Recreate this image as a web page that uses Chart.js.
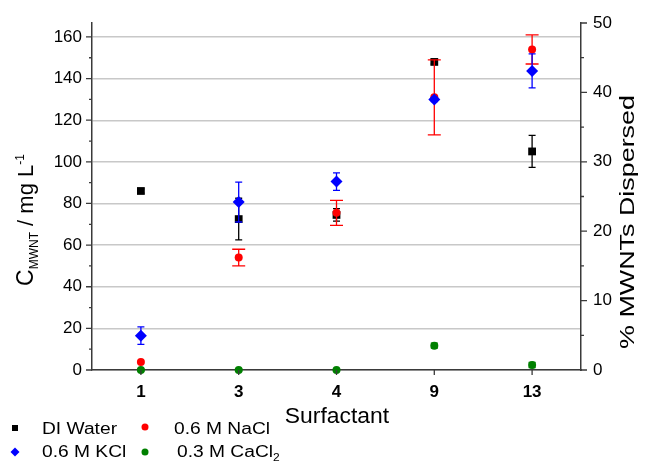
<!DOCTYPE html>
<html>
<head>
<meta charset="utf-8">
<script src="https://cdn.jsdelivr.net/npm/chart.js@4.4.0/dist/chart.umd.min.js"></script>
<style>
body { margin: 0; background: #fff; }
#contenedor { width: 645px; height: 463px; }
</style>
</head>
<body>
<div id="contenedor"><canvas id="grafico" width="645" height="463"></canvas></div>
<script>
// Datos
const surfactantes = ['1', '3', '4', '9', '13'];
const diWater = [86, 72.5, 74.5, 148, 105];
const diWaterErr = [1, 10, 3, 1, 7.7];
const naCl = [3.8, 54, 75.5, 131, 154];
const naClErr = [0, 4, 6, 18, 7];
const kCl = [16.5, 80.7, 90.5, 130, 143.7];
const kClErr = [4.2, 9.6, 4.2, 1, 8.2];
const caCl2 = [0, 0, 0, 11.7, 2.4];
const caCl2Err = [0.5, 0.5, 0.5, 1.2, 1.2];
const maxIzq = 166.7;   // mg/L
const maxDer = 50;      // %

const FUENTE = "'Liberation Sans', Arial, sans-serif";
const EJE = '#3a3a3a';

Chart.defaults.font.family = FUENTE;
Chart.defaults.color = '#000';

// texto estirado a lo largo de su direccion
function textoEscalado(ctx, piezas, escala) {
    // piezas: [texto, tamaño, desplazamiento vertical]
    let total = 0;
    piezas.forEach(p => {
        ctx.font = p[1] + 'px ' + FUENTE;
        p.ancho = ctx.measureText(p[0]).width;
        total += p.ancho;
    });
    ctx.save();
    ctx.scale(escala, 1);
    let x = -total / 2;
    ctx.textAlign = 'left';
    ctx.textBaseline = 'alphabetic';
    piezas.forEach(p => {
        ctx.font = p[1] + 'px ' + FUENTE;
        ctx.fillText(p[0], x, p[2]);
        x += p.ancho;
    });
    ctx.restore();
    return total * escala;
}

const barrasError = {
    id: 'barrasError',
    beforeDatasetDraw(chart, args) {
        const ds = chart.data.datasets[args.index];
        if (!ds.errores) return;
        const ctx = chart.ctx;
        const ejeX = chart.scales.x;
        const ejeY = chart.scales.y;
        ctx.save();
        ctx.strokeStyle = ds.borderColor;
        ctx.lineWidth = 1.3;
        ds.data.forEach((v, i) => {
            const e = ds.errores[i];
            if (!e) return;
            const px = ejeX.getPixelForValue(i);
            const arriba = ejeY.getPixelForValue(v + e);
            const abajo = ejeY.getPixelForValue(v - e);
            ctx.beginPath();
            ctx.moveTo(px, arriba); ctx.lineTo(px, abajo);
            ctx.moveTo(px - ds.tapa, arriba); ctx.lineTo(px + ds.tapa, arriba);
            ctx.moveTo(px - ds.tapa, abajo); ctx.lineTo(px + ds.tapa, abajo);
            ctx.stroke();
        });
        ctx.restore();
    }
};

const extras = {
    id: 'extras',
    afterDraw(chart) {
        const ctx = chart.ctx;
        const area = chart.chartArea;
        const yI = chart.scales.y;
        const yD = chart.scales.y2;
        const ejeX = chart.scales.x;
        ctx.save();
        ctx.strokeStyle = EJE;
        ctx.lineWidth = 1.3;
        ctx.beginPath();
        // marcas eje izquierdo
        for (let v = 0; v <= 160; v += 10) {
            const py = yI.getPixelForValue(v);
            ctx.moveTo(area.left - (v % 20 === 0 ? 6 : 3), py);
            ctx.lineTo(area.left, py);
        }
        // marcas eje derecho
        for (let v = 0; v <= 50; v += 5) {
            const py = yD.getPixelForValue(v);
            ctx.moveTo(area.right, py);
            ctx.lineTo(area.right + (v % 10 === 0 ? 6 : 3), py);
        }
        // marcas eje x
        surfactantes.forEach((s, i) => {
            const px = ejeX.getPixelForValue(i);
            ctx.moveTo(px, area.bottom);
            ctx.lineTo(px, area.bottom + 5);
        });
        ctx.stroke();
        ctx.restore();

        ctx.save();
        ctx.fillStyle = '#000';
        // titulo eje x
        ctx.save();
        ctx.translate(337, 423);
        textoEscalado(ctx, [['Surfactant', 22, 0]], 1.04);
        ctx.restore();

        // titulo eje izquierdo
        ctx.save();
        ctx.translate(33, 220);
        ctx.rotate(-Math.PI / 2);
        textoEscalado(ctx, [['C', 23, 0], ['MWNT', 12, 5], [' / mg L', 22, 0], ['-1', 12, -9]], 1.0);
        ctx.restore();

        // titulo eje derecho
        ctx.save();
        ctx.translate(634, 222);
        ctx.rotate(-Math.PI / 2);
        textoEscalado(ctx, [['% MWNTs Dispersed', 21, 0]], 1.28);
        ctx.restore();

        // leyenda
        const filas = [434, 457];
        const dibujarMarca = (tipo, color, x, y) => {
            ctx.fillStyle = color;
            ctx.beginPath();
            if (tipo === 'rect') ctx.rect(x - 3, y - 3, 6, 6);
            else if (tipo === 'rectRot') {
                ctx.moveTo(x, y - 4.5); ctx.lineTo(x + 4.5, y);
                ctx.lineTo(x, y + 4.5); ctx.lineTo(x - 4.5, y);
                ctx.closePath();
            } else ctx.arc(x, y, 3.5, 0, Math.PI * 2);
            ctx.fill();
        };
        dibujarMarca('rect', '#000', 15, filas[0] - 6);
        dibujarMarca('circle', '#ff0000', 145, filas[0] - 7);
        dibujarMarca('rectRot', '#0000ff', 15, filas[1] - 5);
        dibujarMarca('circle', '#008000', 145, filas[1] - 5);
        ctx.fillStyle = '#000';
        const leyenda = (piezas, x, y) => {
            ctx.save();
            ctx.translate(x, y);
            let total = 0;
            piezas.forEach(p => { ctx.font = p[1] + 'px ' + FUENTE; total += ctx.measureText(p[0]).width; });
            ctx.translate(total * 1.2 / 2, 0);
            textoEscalado(ctx, piezas, 1.2);
            ctx.restore();
        };
        leyenda([['DI Water', 16, 0]], 42, filas[0]);
        leyenda([['0.6 M NaCl', 16, 0]], 174, filas[0]);
        leyenda([['0.6 M KCl', 16, 0]], 42, filas[1]);
        leyenda([['0.3 M CaCl', 16, 0], ['2', 10, 4]], 177, filas[1]);
        ctx.restore();
    }
};

function serie(nombre, datos, errores, color, estilo, radio, tapa, orden) {
    return {
        label: nombre,
        data: datos,
        errores: errores,
        tapa: tapa,
        order: orden,
        yAxisID: 'y',
        showLine: false,
        clip: false,
        pointStyle: estilo,
        pointRadius: radio,
        pointBackgroundColor: color,
        pointBorderColor: color,
        pointBorderWidth: 0,
        borderColor: color,
        backgroundColor: color
    };
}

new Chart(document.getElementById('grafico'), {
    type: 'line',
    data: {
        labels: surfactantes,
        datasets: [
            serie('0.6 M KCl', kCl, kClErr, '#0000ff', 'rectRot', 6, 3.5, 0),
            serie('0.6 M NaCl', naCl, naClErr, '#ff0000', 'circle', 4, 6.5, 1),
            serie('DI Water', diWater, diWaterErr, '#000000', 'rect', 5.5, 3.5, 2),
            serie('0.3 M CaCl2', caCl2, caCl2Err, '#008000', 'circle', 4, 3.5, 3)
        ]
    },
    options: {
        responsive: false,
        animation: false,
        layout: { padding: { top: 23, left: 0, right: 0, bottom: 0 } },
        plugins: {
            legend: { display: false },
            tooltip: { enabled: false }
        },
        scales: {
            x: {
                type: 'category',
                offset: true,
                grid: { display: false, drawTicks: false },
                border: { display: true, color: EJE, width: 1.5 },
                ticks: { padding: 12, color: '#000', font: { size: 17, weight: 'bold' } },
                afterFit: s => { s.height = 93; }
            },
            y: {
                position: 'left',
                min: 0,
                max: maxIzq,
                grid: { color: '#c8c8c8', lineWidth: 1.4, drawTicks: false },
                border: { display: true, color: EJE, width: 1.5 },
                ticks: { stepSize: 20, includeBounds: false, padding: 10, color: '#000', font: { size: 17 } },
                afterFit: s => { s.width = 92; }
            },
            y2: {
                position: 'right',
                min: 0,
                max: maxDer,
                grid: { display: false, drawTicks: false },
                border: { display: true, color: EJE, width: 1.5 },
                ticks: { stepSize: 10, padding: 12, color: '#000', font: { size: 17 } },
                afterFit: s => { s.width = 64; }
            }
        }
    },
    plugins: [barrasError, extras]
});
</script>
</body>
</html>
